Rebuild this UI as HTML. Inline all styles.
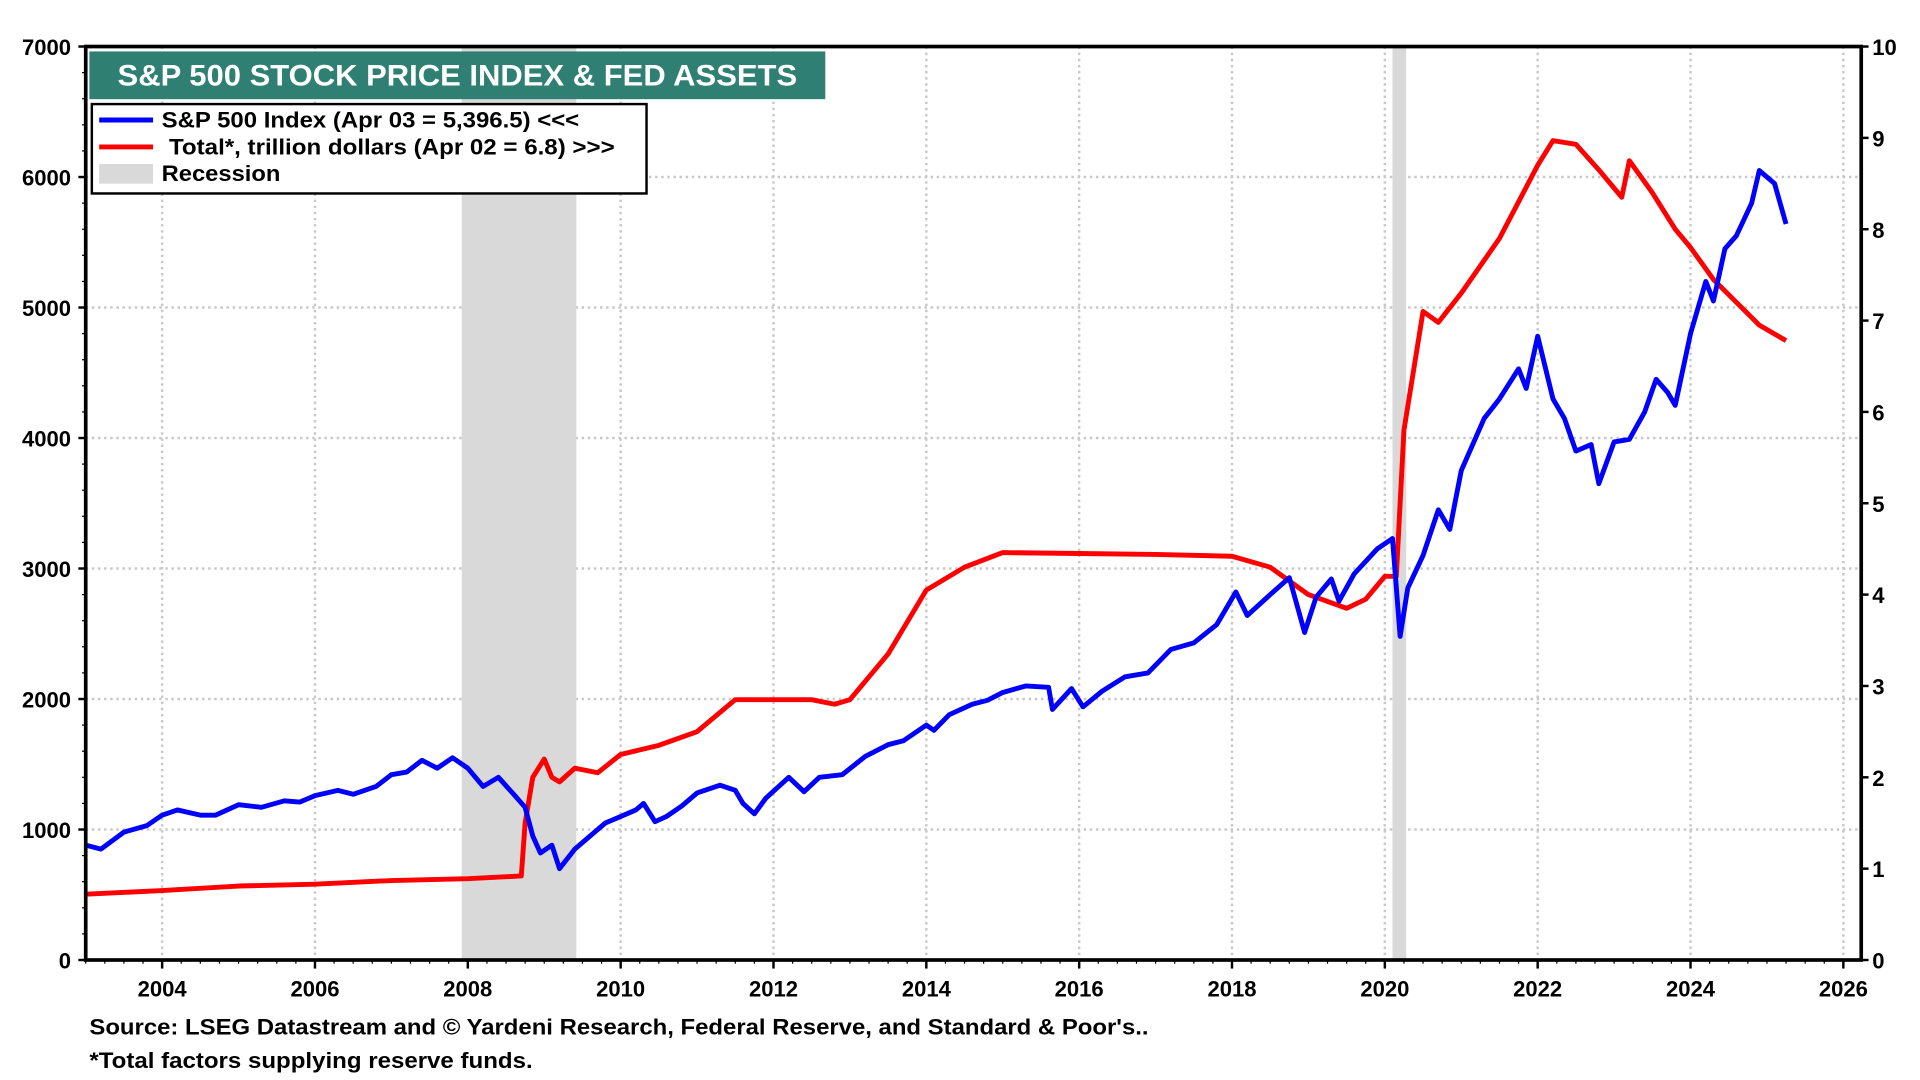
<!DOCTYPE html>
<html><head><meta charset="utf-8"><style>
html,body{margin:0;padding:0;background:#fff;}
svg{display:block;font-family:"Liberation Sans",Arial,sans-serif;font-weight:bold;}
</style></head><body>
<svg id="chart" width="1920" height="1080" viewBox="0 0 1568 882" preserveAspectRatio="none" xmlns="http://www.w3.org/2000/svg">
<g id="grid"></g>
<g id="rec"></g>
<g id="series"></g>
<g id="axes"></g>
<rect x="73" y="42" width="601" height="39" fill="#2f7f72"/>
<text x="96" y="70" font-size="24" fill="#fff" textLength="555" lengthAdjust="spacingAndGlyphs">S&amp;P 500 STOCK PRICE INDEX &amp; FED ASSETS</text>
<g>
<rect x="75" y="85" width="453" height="73" fill="#fff" stroke="#000" stroke-width="2"/>
<line x1="81" y1="98" x2="125" y2="98" stroke="#0000ff" stroke-width="4"/>
<text x="132" y="104" font-size="18" textLength="341" lengthAdjust="spacingAndGlyphs">S&amp;P 500 Index (Apr 03 = 5,396.5) &lt;&lt;&lt;</text>
<line x1="81" y1="120" x2="125" y2="120" stroke="#ff0000" stroke-width="4"/>
<text x="138" y="126" font-size="18" textLength="364" lengthAdjust="spacingAndGlyphs">Total*, trillion dollars (Apr 02 = 6.8) &gt;&gt;&gt;</text>
<rect x="81" y="134" width="44" height="16" fill="#d9d9d9"/>
<text x="132" y="148" font-size="18" textLength="97" lengthAdjust="spacingAndGlyphs">Recession</text>
</g>
<text x="73" y="845" font-size="18" textLength="865" lengthAdjust="spacingAndGlyphs">Source: LSEG Datastream and © Yardeni Research, Federal Reserve, and Standard &amp; Poor's..</text>
<text x="73" y="872" font-size="18" textLength="362" lengthAdjust="spacingAndGlyphs">*Total factors supplying reserve funds.</text>
</svg>
<script>
const spDates=[2003.0,2003.2,2003.5,2003.8,2004.0,2004.2,2004.5,2004.7,2005.0,2005.3,2005.6,2005.8,2006.0,2006.3,2006.5,2006.8,2007.0,2007.2,2007.4,2007.6,2007.8,2008.0,2008.2,2008.4,2008.6,2008.75,2008.85,2008.95,2009.1,2009.2,2009.4,2009.6,2009.8,2010.0,2010.2,2010.3,2010.45,2010.6,2010.8,2011.0,2011.3,2011.5,2011.6,2011.75,2011.9,2012.2,2012.4,2012.6,2012.9,2013.2,2013.5,2013.7,2014.0,2014.1,2014.3,2014.6,2014.8,2015.0,2015.3,2015.6,2015.65,2015.9,2016.05,2016.3,2016.6,2016.9,2017.2,2017.5,2017.8,2018.05,2018.2,2018.5,2018.75,2018.95,2019.1,2019.3,2019.4,2019.6,2019.9,2020.1,2020.2,2020.3,2020.5,2020.7,2020.85,2021.0,2021.3,2021.5,2021.75,2021.85,2022.0,2022.2,2022.35,2022.5,2022.7,2022.8,2023.0,2023.2,2023.4,2023.55,2023.7,2023.8,2024.0,2024.2,2024.3,2024.45,2024.6,2024.8,2024.9,2025.1,2025.25];
const spValues=[880,850,980,1030,1110,1150,1110,1110,1190,1170,1220,1210,1260,1300,1270,1330,1420,1440,1530,1470,1550,1470,1330,1400,1270,1170,950,820,880,700,850,950,1050,1100,1150,1200,1060,1100,1180,1280,1340,1300,1200,1120,1240,1400,1290,1400,1420,1560,1650,1680,1800,1760,1880,1960,1990,2050,2100,2090,1920,2080,1940,2060,2170,2200,2380,2430,2570,2820,2640,2800,2930,2510,2780,2920,2750,2960,3150,3230,2480,2850,3100,3450,3300,3750,4150,4300,4530,4380,4780,4300,4150,3900,3950,3650,3970,3990,4200,4450,4350,4250,4800,5200,5050,5450,5550,5800,6050,5950,5640];
const fedDates=[2003.0,2004.0,2005.0,2006.0,2007.0,2008.0,2008.7,2008.75,2008.85,2009.0,2009.1,2009.2,2009.4,2009.7,2010.0,2010.5,2011.0,2011.5,2012.0,2012.5,2012.8,2013.0,2013.5,2014.0,2014.5,2015.0,2016.0,2017.0,2018.0,2018.5,2019.0,2019.5,2019.75,2020.0,2020.15,2020.25,2020.5,2020.7,2021.0,2021.5,2022.0,2022.2,2022.5,2022.8,2023.1,2023.2,2023.5,2023.8,2024.0,2024.3,2024.6,2024.9,2025.25];
const fedValues=[0.72,0.76,0.81,0.83,0.87,0.89,0.92,1.5,2.0,2.2,2.0,1.95,2.1,2.05,2.25,2.35,2.5,2.85,2.85,2.85,2.8,2.85,3.35,4.05,4.3,4.46,4.45,4.44,4.42,4.3,4.0,3.85,3.95,4.2,4.2,5.8,7.1,6.98,7.3,7.9,8.7,8.97,8.93,8.65,8.35,8.75,8.4,8.0,7.8,7.45,7.2,6.95,6.78];
const recessions=[[2007.92,2009.42],[2020.1,2020.28]];
const leftTicks=[0,1000,2000,3000,4000,5000,6000,7000];
const rightTicks=[0,1,2,3,4,5,6,7,8,9,10];
const yearTicks=[2004,2006,2008,2010,2012,2014,2016,2018,2020,2022,2024,2026];

const L=70,R=1520,T=38,B=784;
const xs=d=>L+(d-2003.0)*(1505-132)/22;
const yl=v=>B-(v/7000)*(B-T);
const yr=v=>B-(v/10)*(B-T);
const NS="http://www.w3.org/2000/svg";
function mk(parent,tag,attrs){const e=document.createElementNS(NS,tag);for(const k in attrs)e.setAttribute(k,attrs[k]);document.getElementById(parent).appendChild(e);return e;}

leftTicks.forEach(v=>{
 if(v>0&&v<7000){const g=mk('grid','line',{x1:L,x2:R,y1:yl(v),y2:yl(v),stroke:'#c8c8c8','stroke-width':2,'stroke-dasharray':'2,3'});
 
 }
 const t=mk('axes','text',{x:L-12,y:yl(v)+7,'font-size':18,'text-anchor':'end'});t.textContent=v;
 
 
 mk('axes','line',{x1:L-6,x2:L,y1:yl(v),y2:yl(v),stroke:'#000','stroke-width':2});
});
for(let v=0;v<=7000;v+=200){mk('axes','line',{x1:L-3,x2:L,y1:yl(v),y2:yl(v),stroke:'#000','stroke-width':1});}
rightTicks.forEach(v=>{
 const t=mk('axes','text',{x:R+9,y:yr(v)+7,'font-size':18});t.textContent=v;
 
 
 mk('axes','line',{x1:R,x2:R+6,y1:yr(v),y2:yr(v),stroke:'#000','stroke-width':2});
});
yearTicks.forEach(y=>{
 const g=mk('grid','line',{x1:xs(y),x2:xs(y),y1:T,y2:B,stroke:'#c8c8c8','stroke-width':2,'stroke-dasharray':'2,3'});
 
 
 const t=mk('axes','text',{x:xs(y),y:B+30,'font-size':18,'text-anchor':'middle'});t.textContent=y;
 
 
 mk('axes','line',{x1:xs(y),x2:xs(y),y1:B,y2:B+7,stroke:'#000','stroke-width':2});
});
for(let y=2003;y<=2026;y+=0.25){mk('axes','line',{x1:xs(y),x2:xs(y),y1:B,y2:B+3,stroke:'#000','stroke-width':1});}
recessions.forEach(r=>{
 const e=mk('rec','rect',{x:xs(r[0]),y:T,width:xs(r[1])-xs(r[0]),height:B-T,fill:'#d9d9d9'});
 
 
});
const fp=mk('series','polyline',{points:fedDates.map((d,i)=>xs(d)+','+yr(fedValues[i])).join(' '),fill:'none',stroke:'#ff0000','stroke-width':4,'stroke-linejoin':'round'});


const sp=mk('series','polyline',{points:spDates.map((d,i)=>xs(d)+','+yl(spValues[i])).join(' '),fill:'none',stroke:'#0000ff','stroke-width':4,'stroke-linejoin':'round'});


const fr=mk('axes','rect',{x:L,y:T,width:R-L,height:B-T,fill:'none',stroke:'#000','stroke-width':3});


</script>
</body></html>
